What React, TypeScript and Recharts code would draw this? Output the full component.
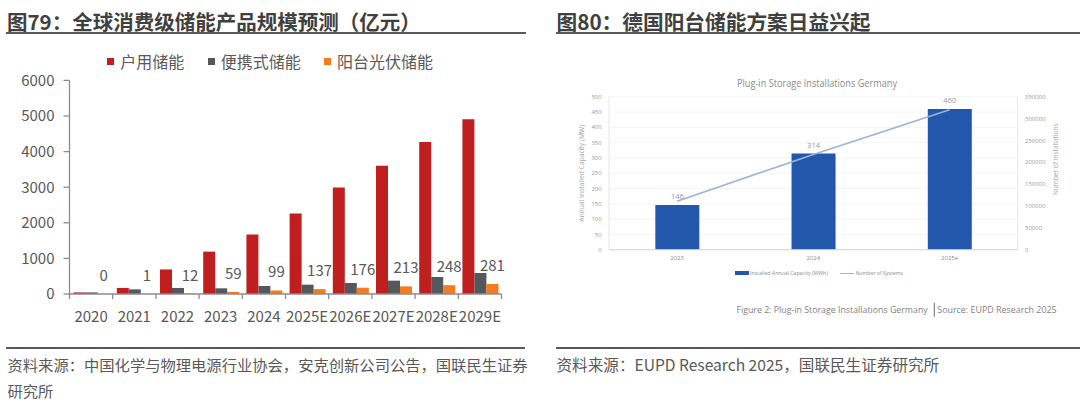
import React from 'react';
import {
  BarChart,
  Bar,
  XAxis,
  YAxis,
  Legend,
  LabelList,
  ComposedChart,
  Line,
  CartesianGrid,
} from 'recharts';

// ---------- Data: Figure 79 ----------
const years = ['2020', '2021', '2022', '2023', '2024', '2025E', '2026E', '2027E', '2028E', '2029E'];
const householdStorage = [45, 170, 690, 1190, 1670, 2260, 2990, 3600, 4270, 4910];
const portableStorage = [45, 130, 170, 160, 225, 262, 309, 375, 478, 590];
const balconyStorage = [0, 1, 12, 59, 99, 137, 176, 213, 248, 281];
const leftTicks = [0, 1000, 2000, 3000, 4000, 5000, 6000];
const leftSeriesOrder = ['household', 'portable', 'balcony'];

// ---------- Data: Figure 80 ----------
const deYears = ['2023', '2024', '2025e'];
const deCapacity = [146, 314, 460];
const deSystems = [111000, 218000, 320000];
const deLeftTicks = [0, 50, 100, 150, 200, 250, 300, 350, 400, 450, 500];
const deRightTicks = [0, 50000, 100000, 150000, 200000, 250000, 300000, 350000];
const rightSeriesOrder = ['capacity', 'systems'];

const leftData = years.map((year, i) => ({
  year,
  household: householdStorage[i],
  portable: portableStorage[i],
  balcony: balconyStorage[i],
}));

const deData = deYears.map((year, i) => ({
  year,
  capacity: deCapacity[i],
  systems: deSystems[i],
}));

const CJK = "'Noto Sans CJK SC', 'Noto Sans', sans-serif";
const LAT = "'Open Sans', 'Noto Sans', sans-serif";
const TXT = '#595959';

// left chart geometry
const L_W = 530;
const L_H = 300;
const L_MARGIN = { top: 40.4, right: 28.5, bottom: 16, left: 9.5 };
const L_YW = 60;
const L_BAND = (L_W - L_MARGIN.left - L_MARGIN.right - L_YW) / years.length;

const sortBy = (payload: any[], order: string[]) =>
  [...(payload || [])].sort((a, b) => order.indexOf(String(a.dataKey)) - order.indexOf(String(b.dataKey)));

const XTick = (props: any) => {
  const { x, y, payload, index, visibleTicksCount } = props;
  const half = typeof payload?.offset === 'number' && payload.offset > 0 ? payload.offset : L_BAND / 2;
  const last = index === (visibleTicksCount ?? years.length) - 1;
  return (
    <g>
      <line x1={x - half} x2={x - half} y1={y} y2={y + 5} stroke="#8c8c8c" strokeWidth={1.3} />
      {last && <line x1={x + half} x2={x + half} y1={y} y2={y + 5} stroke="#8c8c8c" strokeWidth={1.3} />}
      <text
        x={x}
        y={y + 21.7}
        textAnchor="middle"
        dominantBaseline="central"
        fill={TXT}
        fontSize={15}
        fontFamily={CJK}
      >
        {payload.value}
      </text>
    </g>
  );
};

const LeftLegend = (props: any) => {
  const items = sortBy(props.payload, leftSeriesOrder);
  return (
    <div
      style={{
        display: 'flex',
        alignItems: 'center',
        fontSize: 16,
        lineHeight: '18px',
        color: TXT,
        fontFamily: CJK,
        whiteSpace: 'nowrap',
      }}
    >
      {items.map((e: any, i: number) => (
        <span key={i} style={{ display: 'inline-flex', alignItems: 'center', marginRight: 23.4 }}>
          <span style={{ width: 7, height: 7, background: e.color, marginRight: 6, display: 'inline-block' }} />
          {e.value}
        </span>
      ))}
    </div>
  );
};

const RightLegend = (props: any) => {
  const items = sortBy(props.payload, rightSeriesOrder);
  return (
    <div
      style={{
        display: 'flex',
        alignItems: 'center',
        fontSize: 5.2,
        lineHeight: '8px',
        color: '#8c8c8c',
        fontFamily: LAT,
        whiteSpace: 'nowrap',
      }}
    >
      {items.map((e: any, i: number) => (
        <span key={i} style={{ display: 'inline-flex', alignItems: 'center', marginRight: 12 }}>
          {e.type === 'line' ? (
            <span style={{ width: 14.7, height: 1.5, background: e.color, marginRight: 1, display: 'inline-block' }} />
          ) : (
            <span style={{ width: 14.3, height: 4, background: e.color, marginRight: 1, display: 'inline-block' }} />
          )}
          {e.value}
        </span>
      ))}
    </div>
  );
};

function LeftChart() {
  return (
    <BarChart
      width={L_W}
      height={L_H}
      data={leftData}
      margin={L_MARGIN}
      barCategoryGap="9.5%"
      barGap={0}
    >
      <XAxis
        dataKey="year"
        height={30}
        interval={0}
        tickSize={0}
        tickMargin={0}
        tickLine={false}
        axisLine={{ stroke: '#8c8c8c', strokeWidth: 1.3 }}
        tick={<XTick />}
      />
      <YAxis
        width={L_YW}
        domain={[0, 6000]}
        ticks={leftTicks}
        interval={0}
        tickSize={6}
        tickMargin={9}
        tickLine={{ stroke: '#8c8c8c', strokeWidth: 1.3 }}
        axisLine={{ stroke: '#8c8c8c', strokeWidth: 1.3 }}
        tick={{ fill: TXT, fontSize: 15, fontFamily: CJK }}
      />
      <Legend
        layout="horizontal"
        verticalAlign="middle"
        align="center"
        wrapperStyle={{ top: 12, left: 107.3, width: 420, height: 18 }}
        content={<LeftLegend />}
      />
      <Bar dataKey="household" name="户用储能" fill="#BF1F1F" isAnimationActive={false} />
      <Bar dataKey="portable" name="便携式储能" fill="#54585C" isAnimationActive={false} />
      <Bar dataKey="balcony" name="阳台光伏储能" fill="#F47B20" minPointSize={0.01} isAnimationActive={false}>
        <LabelList dataKey="balcony" position="top" offset={13} fill={TXT} fontSize={15} fontFamily={CJK} />
      </Bar>
    </BarChart>
  );
}

function RightChart() {
  return (
    <ComposedChart
      width={510}
      height={220}
      data={deData}
      margin={{ top: 26.7, right: 12.3, bottom: 20.3, left: 19 }}
      barCategoryGap="34%"
    >
      <CartesianGrid yAxisId="cap" vertical={false} stroke="#f1f1f1" strokeWidth={0.8} />
      <XAxis
        dataKey="year"
        height={20}
        tickSize={0}
        tickMargin={6.5}
        tickLine={false}
        axisLine={{ stroke: '#d6d6d6', strokeWidth: 1 }}
        tick={{ fill: '#8c8c8c', fontSize: 6, fontFamily: LAT }}
      />
      <YAxis
        yAxisId="cap"
        width={30}
        domain={[0, 500]}
        ticks={deLeftTicks}
        interval={0}
        tickSize={0}
        tickMargin={7.3}
        tickLine={false}
        axisLine={{ stroke: '#e6e6e6', strokeWidth: 1 }}
        tick={{ fill: '#9a9a9a', fontSize: 6, fontFamily: LAT }}
      />
      <YAxis
        yAxisId="sys"
        orientation="right"
        width={40}
        domain={[0, 350000]}
        ticks={deRightTicks}
        interval={0}
        tickSize={0}
        tickMargin={7.3}
        tickLine={false}
        axisLine={{ stroke: '#e6e6e6', strokeWidth: 1 }}
        tick={{ fill: '#9a9a9a', fontSize: 6, fontFamily: LAT, textAnchor: 'start' }}
      />
      <Legend
        layout="horizontal"
        verticalAlign="middle"
        align="center"
        wrapperStyle={{ top: 199.3, left: 174.7, width: 250, height: 8 }}
        content={<RightLegend />}
      />
      <Bar yAxisId="cap" dataKey="capacity" name="Installed Annual Capacity (MWh)" fill="#2357AB" isAnimationActive={false}>
        <LabelList dataKey="capacity" position="top" offset={6} fill="#9a9a9a" fontSize={7.5} fontFamily={LAT} />
      </Bar>
      <Line
        yAxisId="sys"
        type="linear"
        dataKey="systems"
        name="Number of Systems"
        stroke="#9CB2D9"
        strokeWidth={1.6}
        dot={false}
        activeDot={false}
        isAnimationActive={false}
      />
    </ComposedChart>
  );
}

export default function App() {
  return (
    <div
      style={{
        position: 'fixed',
        left: 0,
        top: 0,
        width: 1080,
        height: 408,
        background: '#ffffff',
        overflow: 'hidden',
        fontFamily: CJK,
      }}
    >
      {/* Titles */}
      <div
        style={{
          position: 'absolute',
          left: 7,
          top: 9,
          fontSize: 20.5,
          fontWeight: 700,
          lineHeight: '24px',
          color: '#404040',
          whiteSpace: 'nowrap',
        }}
      >
        图79：全球消费级储能产品规模预测（亿元）
      </div>
      <div style={{ position: 'absolute', left: 6, top: 32, width: 520, height: 2, background: '#595959' }} />
      <div
        style={{
          position: 'absolute',
          left: 556.5,
          top: 9,
          fontSize: 20.7,
          fontWeight: 700,
          lineHeight: '24px',
          color: '#404040',
          whiteSpace: 'nowrap',
        }}
      >
        图80：德国阳台储能方案日益兴起
      </div>
      <div style={{ position: 'absolute', left: 556, top: 32, width: 524, height: 2, background: '#595959' }} />

      {/* Left chart */}
      <div style={{ position: 'absolute', left: 0, top: 40 }}>
        <LeftChart />
      </div>

      {/* Right chart (embedded figure) texts */}
      <svg
        style={{ position: 'absolute', left: 0, top: 0 }}
        width={1080}
        height={408}
        pointerEvents="none"
      >
        <text
          x={817}
          y={83.3}
          textAnchor="middle"
          dominantBaseline="central"
          fontSize={10.5}
          fill="#8c8c8c"
          fontFamily={LAT}
          textLength={160}
          lengthAdjust="spacingAndGlyphs"
        >
          Plug-in Storage Installations Germany
        </text>
        <text
          x={581.7}
          y={173.3}
          transform="rotate(-90 581.7 173.3)"
          textAnchor="middle"
          dominantBaseline="central"
          fontSize={7}
          fill="#a6a6a6"
          fontFamily={LAT}
          textLength={97}
          lengthAdjust="spacingAndGlyphs"
        >
          Annual Installed Capacity (MW)
        </text>
        <text
          x={1055.7}
          y={159.2}
          transform="rotate(-90 1055.7 159.2)"
          textAnchor="middle"
          dominantBaseline="central"
          fontSize={7}
          fill="#a6a6a6"
          fontFamily={LAT}
          textLength={71.7}
          lengthAdjust="spacingAndGlyphs"
        >
          Number of Installations
        </text>
        <text
          x={736.4}
          y={309.3}
          dominantBaseline="central"
          fontSize={9.5}
          fill="#7f7f7f"
          fontFamily={LAT}
          textLength={191.3}
          lengthAdjust="spacingAndGlyphs"
        >
          Figure 2: Plug-in Storage Installations Germany
        </text>
        <line x1={934.3} x2={934.3} y1={302.7} y2={316.7} stroke="#6b6b6b" strokeWidth={1} />
        <text
          x={937.3}
          y={309.3}
          dominantBaseline="central"
          fontSize={9.5}
          fill="#7f7f7f"
          fontFamily={LAT}
          textLength={119.4}
          lengthAdjust="spacingAndGlyphs"
        >
          Source: EUPD Research 2025
        </text>
      </svg>
      <div style={{ position: 'absolute', left: 560, top: 70 }}>
        <RightChart />
      </div>

      {/* Footers */}
      <div style={{ position: 'absolute', left: 6, top: 347, width: 519, height: 2, background: '#595959' }} />
      <div style={{ position: 'absolute', left: 556, top: 347, width: 524, height: 2, background: '#595959' }} />
      <div
        style={{
          position: 'absolute',
          left: 7.5,
          top: 351,
          fontSize: 15.3,
          lineHeight: '26px',
          color: TXT,
          whiteSpace: 'nowrap',
        }}
      >
        <div>资料来源：中国化学与物理电源行业协会，安克创新公司公告，国联民生证券</div>
        <div>研究所</div>
      </div>
      <div
        style={{
          position: 'absolute',
          left: 556.5,
          top: 351,
          fontSize: 15.6,
          lineHeight: '26px',
          color: TXT,
          whiteSpace: 'nowrap',
        }}
      >
        资料来源：EUPD Research 2025，国联民生证券研究所
      </div>
    </div>
  );
}
